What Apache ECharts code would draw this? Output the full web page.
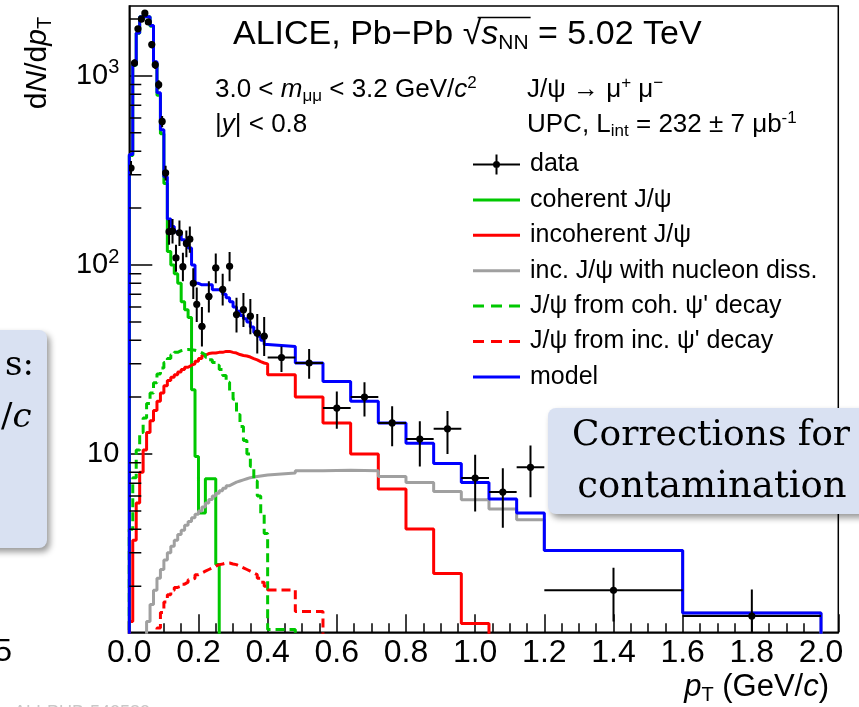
<!DOCTYPE html>
<html><head><meta charset="utf-8">
<script src="https://cdn.jsdelivr.net/npm/echarts@6/dist/echarts.min.js"></script>
<style>html,body{margin:0;padding:0;background:#fff;} #c{width:859px;height:707px;}</style>
</head><body><div id="c"></div>
<script>
// ---------------- data ----------------
const binEdges = [0,0.01,0.02,0.03,0.04,0.05,0.06,0.07,0.08,0.09,0.10,0.11,0.12,0.13,0.14,0.15,0.16,0.17,0.18,0.19,
  0.20,0.21,0.22,0.23,0.24,0.25,0.26,0.27,0.28,0.29,0.30,0.31,0.32,0.33,0.34,0.35,0.36,0.37,0.38,0.39,
  0.40,0.48,0.56,0.64,0.72,0.80,0.88,0.96,1.04,1.12,1.20,1.60,2.00];

const modelVals = [384,1146,1690,2060,2060,2060,1850,1190,815,520,293,175,160,150,146,136,131,123,100,80,
  78.5,78.5,78.5,78.5,74,74,74,70,67,64,60,57,54,52,50,47,44,42,40,38,
  37.1,30.3,24.2,19.0,14.6,11.4,8.9,7.07,5.78,4.87,3.09,1.44];
const coherentVals = [380,1140,1685,2055,2055,2055,1830,1160,790,495,270,118,100,90,80,64,58,52.7,21.9,9.7,
  4.87,4.87,7.4,7.4,7.4,2.6,0,0,0,0,0,0,0,0,0,0,0,0,0,0,
  0,0,0,0,0,0,0,0,0,0,0,0];
const incoherentVals = [1.3,3.5,5.5,8,10.5,13,15,17,19,21,23,24.5,25.5,26.3,27.2,28,28.8,29.5,30,31,
  32,33.3,34,34.2,34.2,34.5,34.5,34.9,34.9,34.5,34.2,33.6,33.2,33,32.6,32,31.5,30.8,30.3,30,
  26.3,20.0,14.6,10.0,6.53,4.01,2.33,1.27,0,0,0,0];
const dissVals = [0,0,0,0,1.0,1.3,1.6,1.9,2.2,2.45,2.75,3.0,3.25,3.5,3.75,3.95,4.2,4.4,4.6,4.8,
  5.0,5.25,5.5,5.75,6.0,6.2,6.4,6.6,6.8,6.95,7.1,7.2,7.3,7.4,7.5,7.55,7.6,7.65,7.7,7.75,
  7.93,8.15,8.2,8.15,7.6,7.07,6.34,5.73,5.12,4.49,3.09,1.44];
const cohPsi2Vals = [4,7.5,10.5,13,15.5,18.5,21,23.8,26.5,28.5,30.5,32,33.5,34.5,35.2,35.6,35.7,35.6,35.4,35,
  34.3,33.5,32.5,31.5,30.5,29.5,28,26,24,21.5,19.5,16.2,14,11.8,10,8.6,7.2,6,4.8,3.8,
  1.18,0,0,0,0,0,0,0,0,0,0,0];
const incPsi2Vals = [0,0,0,0,0,0,0,1.0,1.2,1.45,1.65,1.8,1.9,1.97,2.0,2.05,2.1,2.16,2.2,2.3,
  2.35,2.4,2.45,2.5,2.55,2.6,2.62,2.65,2.65,2.62,2.6,2.55,2.5,2.45,2.4,2.35,2.3,2.2,2.1,2.0,
  1.91,1.47,0,0,0,0,0,0,0,0,0,0];

// measured points: bin centre, half width, value, lower end, upper end of error bar
const dataX   = [0.005,0.015,0.025,0.035,0.045,0.055,0.065,0.075,0.085,0.095,0.105,0.115,0.125,0.135,0.145,0.155,0.165,0.175,0.185,0.195,
  0.21,0.23,0.25,0.27,0.29,0.31,0.33,0.35,0.37,0.39,
  0.44,0.52,0.60,0.68,0.76,0.84,0.92,1.00,1.08,1.16,1.4,1.8];
const dataXerr = [0.005,0.005,0.005,0.005,0.005,0.005,0.005,0.005,0.005,0.005,0.005,0.005,0.005,0.005,0.005,0.005,0.005,0.005,0.005,0.005,
  0.01,0.01,0.01,0.01,0.01,0.01,0.01,0.01,0.01,0.01,
  0.04,0.04,0.04,0.04,0.04,0.04,0.04,0.04,0.04,0.04,0.2,0.2];
const dataY  = [326,1170,1775,2000,2150,1930,1465,1146,899,575,307,150,151,109,148,98,130,137,80,62,
  47.3,68.2,96.5,74.3,98.4,54.7,58,53.6,43.6,42,
  32.4,30.3,17.5,20.0,14.6,12.0,13.6,7.46,6.29,8.5,1.90,1.39];
const dataYlo = [300,1120,1710,1930,2075,1860,1400,1090,850,535,280,128,130,92,126,82,110,116,66,50,
  37,56,80,61,82,44,47,43,34,33,
  27.2,25.0,13.6,15.8,11.0,8.6,10.0,4.97,4.07,5.9,1.3,0.9];
const dataYhi = [355,1225,1840,2075,2230,2005,1530,1205,950,615,335,173,175,128,172,116,152,160,96,76,
  60,82,115,90,117,67,71,66,55,53,
  37.1,35.9,21.4,24.0,17.9,14.9,16.9,9.9,8.4,11.1,2.5,1.92];

const xTickStep = 0.2;
const yMinorTicks = [2,3,4,5,6,7,8,9,20,30,40,50,60,70,80,90,200,300,400,500,600,700,800,900,2000];

// ---------------- helpers ----------------
const FLOOR = 0.3; // below the axis minimum: empty bins fall outside the frame (clipped)
function histLine(vals) {
  const n = vals.length, pts = [[binEdges[0], FLOOR]];
  for (let i = 0; i < n; i++) pts.push([binEdges[i], vals[i] > 0 ? vals[i] : FLOOR]);
  pts.push([binEdges[n], vals[n-1] > 0 ? vals[n-1] : FLOOR]);
  pts.push([binEdges[n], FLOOR]);
  return pts;
}
const FONT = '"Liberation Sans", Arial, Helvetica, sans-serif';
const SERIF = '"DejaVu Serif", "Liberation Serif", serif';
const ICON_SOLID = 'path://M0,0h47v3h-47z';
const ICON_DASH = 'path://M0,0h11v3h-11z M18,0h11v3h-11z M36,0h11v3h-11z';

function hist(name, vals, color, dashed, z) {
  return {
    name, type: 'line', step: 'end', data: histLine(vals), symbol: 'none', clip: true,
    lineStyle: { color, width: 3, type: dashed ? [9, 5] : 'solid' }, itemStyle: { color },
    z, animation: false, silent: true
  };
}

const chart = echarts.init(document.getElementById('c'), null, { renderer: 'canvas' });
const errData = dataX.map((x, i) => [x, dataY[i], dataXerr[i], dataYlo[i], dataYhi[i]]);

// measure title parts for the radical overline
const mctx = document.createElement('canvas').getContext('2d');
function mw(font, s) { mctx.font = font; return mctx.measureText(s).width; }
const titleX = 233, titleY = 35, TFS = 34, TSUB = 21;
const wPre = mw(TFS + 'px ' + FONT, 'ALICE, Pb\u2212Pb ');
const wRad = mw(TFS + 'px ' + FONT, '\u221A');
const wS = mw('italic ' + TFS + 'px ' + FONT, 's');
const wNN = mw(TSUB + 'px ' + FONT, 'NN');

const AFS = 26, ASUB = 17;

const option = {
  backgroundColor: '#fff',
  animation: false,
  grid: { left: 129.3, right: 20.7, top: 6, bottom: 74.7, show: true, borderColor: '#000', borderWidth: 1.5, backgroundColor: 'transparent' },
  xAxis: {
    type: 'value', min: 0, max: 2.05, interval: xTickStep,
    axisLine: { onZero: false, lineStyle: { color: '#000', width: 1.5 } },
    axisTick: { inside: true, length: 18, lineStyle: { color: '#000', width: 1.5 } },
    minorTick: { show: true, splitNumber: 4, length: 9, lineStyle: { color: '#000', width: 1.5 } },
    splitLine: { show: false },
    axisLabel: { showMaxLabel: false, fontFamily: FONT, fontSize: 32, color: '#000', margin: 5,
      formatter: v => v.toFixed(1) }
  },
  yAxis: {
    type: 'log', logBase: 10, min: 1.14, max: 2345,
    axisLine: { lineStyle: { color: '#000', width: 1.5 } },
    axisTick: { inside: true, length: 23, lineStyle: { color: '#000', width: 1.5 } },
    splitLine: { show: false },
    axisLabel: {
      showMinLabel: false, showMaxLabel: false, fontFamily: FONT, fontSize: 29, color: '#000', margin: 10,
      formatter: v => {
        const e = Math.round(Math.log10(v));
        if (Math.abs(Math.log10(v) - e) > 1e-6) return '';
        return e === 1 ? '10' : '10{s|' + e + '}';
      },
      rich: { s: { fontFamily: FONT, fontSize: 20, color: '#000', padding: [0, 0, 16, 0] } }
    }
  },
  legend: {
    orient: 'vertical', left: 468, top: 147, itemWidth: 47, itemHeight: 20, itemGap: 10.4,
    textStyle: { fontFamily: FONT, fontSize: 25, color: '#000', lineHeight: 25, padding: [0, 0, 0, 5] },
    data: [
      { name: 'data', icon: 'path://M0,9h47v2h-47z M22.5,0h2v20h-2z M20,10a3.5,3.5 0 1 1 7,0a3.5,3.5 0 1 1 -7,0z' },
      { name: 'coherent J/\u03C8', icon: ICON_SOLID },
      { name: 'incoherent J/\u03C8', icon: ICON_SOLID },
      { name: 'inc. J/\u03C8 with nucleon diss.', icon: ICON_SOLID },
      { name: 'J/\u03C8 from coh. \u03C8\' decay', icon: ICON_DASH },
      { name: 'J/\u03C8 from inc. \u03C8\' decay', icon: ICON_DASH },
      { name: 'model', icon: ICON_SOLID }
    ]
  },
  series: [
    hist('coherent J/\u03C8', coherentVals, '#00c800', false, 3),
    hist('incoherent J/\u03C8', incoherentVals, '#ff0000', false, 3),
    hist('inc. J/\u03C8 with nucleon diss.', dissVals, '#a0a0a0', false, 3),
    hist('J/\u03C8 from coh. \u03C8\' decay', cohPsi2Vals, '#00c800', true, 3),
    hist('J/\u03C8 from inc. \u03C8\' decay', incPsi2Vals, '#ff0000', true, 3),
    hist('model', modelVals, '#0000ff', false, 4),
    {
      name: 'data', type: 'custom', clip: true, z: 5, animation: false, silent: true,
      itemStyle: { color: '#000' },
      data: errData,
      encode: { x: 0, y: 1 },
      renderItem: (params, api) => {
        const x = api.value(0), y = api.value(1), xe = api.value(2), lo = api.value(3), hi = api.value(4);
        const c = api.coord([x, y]), l = api.coord([x - xe, y]), r = api.coord([x + xe, y]);
        const t = api.coord([x, hi]), b = api.coord([x, lo]);
        const st = { stroke: '#000', lineWidth: 2 };
        return { type: 'group', children: [
          { type: 'line', shape: { x1: l[0], y1: c[1], x2: r[0], y2: c[1] }, style: st },
          { type: 'line', shape: { x1: c[0], y1: t[1], x2: c[0], y2: b[1] }, style: st },
          { type: 'circle', shape: { cx: c[0], cy: c[1], r: 3.6 }, style: { fill: '#000' } }
        ] };
      }
    },
    {
      name: 'yminor', type: 'custom', silent: true, z: 6, animation: false, clip: true,
      data: yMinorTicks.map(v => [0, v]), encode: { x: 0, y: 1 },
      renderItem: (params, api) => {
        const p = api.coord([0, api.value(1)]);
        return { type: 'line', shape: { x1: p[0], y1: p[1], x2: p[0] + 12, y2: p[1] }, style: { stroke: '#000', lineWidth: 1.5 } };
      }
    }
  ],
  graphic: [
    { type: 'text', x: 38, y: 63, rotation: Math.PI / 2, z: 10,
      style: { text: 'd{i|N}/d{i|p}{sub|T}', fontFamily: FONT, fontSize: 30, fill: '#000', align: 'center', verticalAlign: 'middle',
        rich: { i: { fontFamily: FONT, fontSize: 30, fontStyle: 'italic' }, sub: { fontFamily: FONT, fontSize: 20, padding: [14, 0, 0, 0] } } } },
    { type: 'text', x: 829, y: 687, z: 10,
      style: { text: '{i|p}{sub|T} (GeV/{i|c})', fontFamily: FONT, fontSize: 31, fill: '#000', align: 'right', verticalAlign: 'middle',
        rich: { i: { fontFamily: FONT, fontSize: 31, fontStyle: 'italic' }, sub: { fontFamily: FONT, fontSize: 20, padding: [16, 0, 0, 0] } } } },
    { type: 'text', x: titleX, y: titleY, z: 10,
      style: { text: 'ALICE, Pb\u2212Pb \u221A{i|s}{sub|NN} = 5.02 TeV', fontFamily: FONT, fontSize: TFS, fill: '#000', align: 'left', verticalAlign: 'middle',
        rich: { i: { fontFamily: FONT, fontSize: TFS, fontStyle: 'italic' }, sub: { fontFamily: FONT, fontSize: TSUB, padding: [17, 0, 0, 0] } } } },
    { type: 'line', z: 10, shape: { x1: titleX + wPre + wRad * 0.8, y1: 17.5, x2: titleX + wPre + wRad + wS + wNN + 2, y2: 17.5 }, style: { stroke: '#000', lineWidth: 1.5 } },
    { type: 'text', x: 215, y: 90, z: 10,
      style: { text: '3.0 < {i|m}{sub|\u03BC\u03BC} < 3.2 GeV/{i|c}{sup|2}', fontFamily: FONT, fontSize: AFS, fill: '#000', align: 'left', verticalAlign: 'middle',
        rich: { i: { fontFamily: FONT, fontSize: AFS, fontStyle: 'italic' }, sub: { fontFamily: FONT, fontSize: ASUB, padding: [13, 0, 0, 0] }, sup: { fontFamily: FONT, fontSize: ASUB, padding: [0, 0, 13, 0] } } } },
    { type: 'text', x: 215, y: 125, z: 10,
      style: { text: '|{i|y}| < 0.8', fontFamily: FONT, fontSize: AFS, fill: '#000', align: 'left', verticalAlign: 'middle',
        rich: { i: { fontFamily: FONT, fontSize: AFS, fontStyle: 'italic' } } } },
    { type: 'text', x: 527, y: 90, z: 10,
      style: { text: 'J/\u03C8 \u2192 \u03BC{sup|+} \u03BC{sup|\u2212}', fontFamily: FONT, fontSize: AFS, fill: '#000', align: 'left', verticalAlign: 'middle',
        rich: { sup: { fontFamily: FONT, fontSize: ASUB, padding: [0, 0, 13, 0] } } } },
    { type: 'text', x: 527, y: 125, z: 10,
      style: { text: 'UPC, L{sub|int} = 232 \u00B1 7 \u03BCb{sup|-1}', fontFamily: FONT, fontSize: AFS, fill: '#000', align: 'left', verticalAlign: 'middle',
        rich: { sub: { fontFamily: FONT, fontSize: ASUB, padding: [13, 0, 0, 0] }, sup: { fontFamily: FONT, fontSize: ASUB, padding: [0, 0, 13, 0] } } } },
    // callout boxes from the slide
    { type: 'rect', z: 20, shape: { x: 548, y: 408, width: 340, height: 106, r: 8 },
      style: { fill: '#d9e1f2', shadowBlur: 6, shadowColor: 'rgba(0,0,0,0.4)', shadowOffsetX: 3, shadowOffsetY: 4 } },
    { type: 'text', z: 21, x: 711, y: 436,
      style: { text: 'Corrections for', fontFamily: SERIF, fontSize: 36, fill: '#000', align: 'center', verticalAlign: 'middle' } },
    { type: 'text', z: 21, x: 712, y: 487,
      style: { text: 'contamination', fontFamily: SERIF, fontSize: 37, fill: '#000', align: 'center', verticalAlign: 'middle' } },
    { type: 'rect', z: 20, shape: { x: -30, y: 330, width: 77, height: 218, r: 8 },
      style: { fill: '#d9e1f2', shadowBlur: 6, shadowColor: 'rgba(0,0,0,0.4)', shadowOffsetX: 3, shadowOffsetY: 4 } },
    { type: 'text', z: 21, x: 5, y: 366,
      style: { text: 's:', fontFamily: SERIF, fontSize: 34, fill: '#000', align: 'left', verticalAlign: 'middle' } },
    { type: 'text', z: 21, x: 1, y: 418,
      style: { text: '/{i|c}', fontFamily: SERIF, fontSize: 34, fill: '#000', align: 'left', verticalAlign: 'middle',
        rich: { i: { fontFamily: SERIF, fontSize: 34, fontStyle: 'italic' } } } },
    { type: 'text', z: 21, x: 12, y: 652,
      style: { text: '5', fontFamily: FONT, fontSize: 32, fill: '#000', align: 'right', verticalAlign: 'middle' } },
    { type: 'text', z: 21, x: 14, y: 704,
      style: { text: 'ALI-PUB-542583', fontFamily: FONT, fontSize: 18, fill: '#c8c8c8', align: 'left', verticalAlign: 'top' } }
  ]
};
chart.setOption(option);
</script></body></html>
